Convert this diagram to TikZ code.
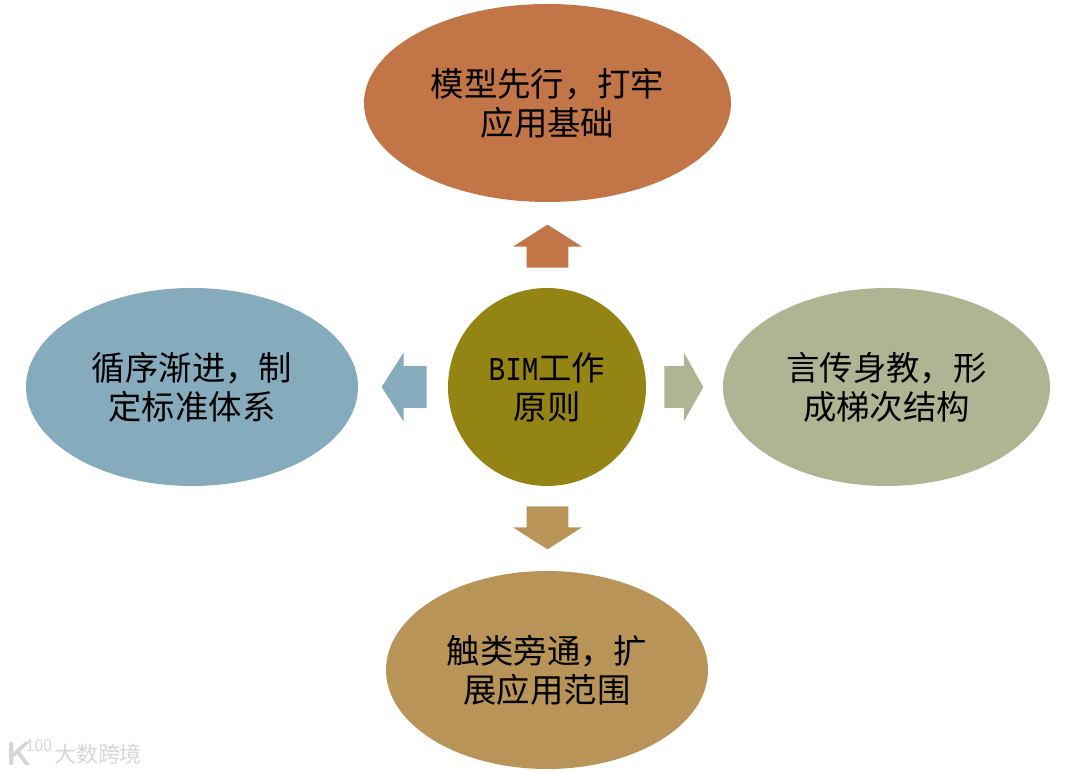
\documentclass[tikz,border=0pt]{standalone}
\usepackage{fontspec}
\newfontfamily\cjk{Noto Sans CJK SC}
\newfontfamily\latinmono[FakeStretch=0.83]{Liberation Mono}
\usepackage{tikz}
\usetikzlibrary{shapes.geometric, shapes.arrows}
\definecolor{hubOlive}{HTML}{938414}
\definecolor{topRust}{HTML}{C27547}
\definecolor{leftBlue}{HTML}{86ABBD}
\definecolor{rightSage}{HTML}{AEB592}
\definecolor{bottomTan}{HTML}{B89459}
\newcommand{\zhcomma}{^^^^ff0c}

\begin{document}
\begin{tikzpicture}[
			principle/.style={
				ellipse, draw=none, inner sep=0pt, align=center, text=black,
				font=\cjk\fontsize{19}{22.2}\selectfont,
				minimum height=3.96cm
			},
			hub/.style={
				circle, draw=none, fill=hubOlive, inner sep=0pt, align=center,
				text=black, font=\cjk\fontsize{19}{22.2}\selectfont,
				minimum size=3.96cm
			},
			blockarrow/.style={
				single arrow, draw=none, inner xsep=0pt, inner ysep=0.41cm, anchor=tail,
				single arrow head extend=0.27cm,
				single arrow tip angle=115
			},
			uprightarrow/.style={
				blockarrow, inner xsep=0.41cm, inner ysep=0pt
			},
			mark text/.style={
				inner sep=0pt, text=black!16, font=\cjk\fontsize{12.5}{14}\selectfont
			}
			]
			
			\useasboundingbox (0, 0) rectangle (21.82, 15.48);
			
			\node[hub] (centre) at (10.94, 7.74)
			{{\latinmono BIM}工作\\原则};
			
			\node[principle, fill=topRust, minimum width=7.34cm] (top) at (10.95, 13.42)
			{模型先行\zhcomma 打牢\\应用基础};
			
			\node[principle, fill=leftBlue, minimum width=6.64cm] (left) at (3.84, 7.74)
			{循序渐进\zhcomma 制\\定标准体系};
			
			\node[principle, fill=rightSage, minimum width=6.54cm] (right) at (17.73, 7.74)
			{言传身教\zhcomma 形\\成梯次结构};
			
			\node[principle, fill=bottomTan, minimum width=6.44cm] (bottom) at (10.94, 2.08)
			{触类旁通\zhcomma 扩\\展应用范围};
			
			\node[uprightarrow, fill=topRust, minimum height=0.86cm,
			shape border rotate=90] (arrowTop) at (10.95, 10.12) {};
			
			\node[blockarrow, fill=leftBlue, minimum height=0.90cm,
			shape border rotate=180] (arrowLeft) at (8.54, 7.74) {};
			
			\node[blockarrow, fill=rightSage, minimum height=0.78cm,
			single arrow tip angle=121] (arrowRight) at (13.28, 7.74) {};
			
			\node[uprightarrow, fill=bottomTan, minimum height=0.86cm,
			shape border rotate=270] (arrowBottom) at (10.95, 5.36) {};
			
			\node[mark text] (markName) at (1.96, 0.40) {大数跨境};
			\node[mark text, font=\sffamily\bfseries\fontsize{19}{20}\selectfont] (markK) at (0.38, 0.40) {K};
			\node[mark text, font=\sffamily\fontsize{10}{11}\selectfont] (markHundred) at (0.78, 0.56) {100};
			
		\end{tikzpicture}
\end{document}
